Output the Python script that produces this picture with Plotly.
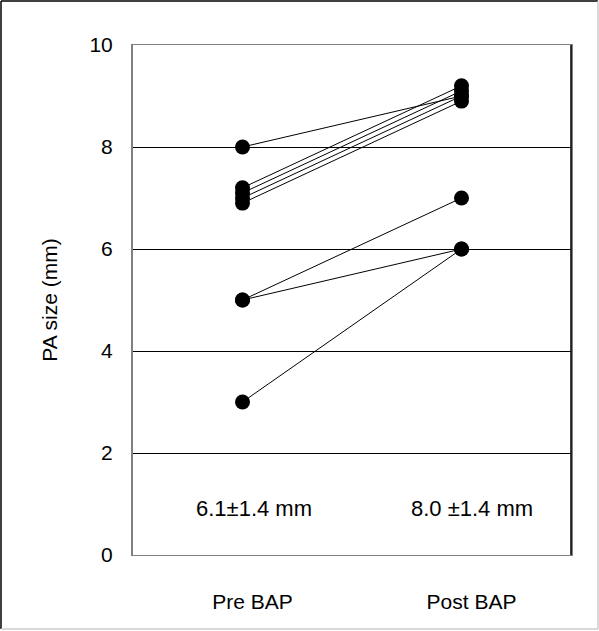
import plotly.graph_objects as go

categories = ["Pre BAP", "Post BAP"]
pre_values = [8.0, 7.2, 7.1, 7.0, 6.9, 5.0, 5.0, 3.0]
post_values = [9.0, 9.2, 9.1, 9.0, 8.9, 7.0, 6.0, 6.0]
summary_labels = ["6.1\u00b11.4 mm", "8.0 \u00b11.4 mm"]
y_ticks = [0, 2, 4, 6, 8, 10]

W, H = 599, 631
L, R, T, B = 133, 28, 45, 76
pw, ph = W - L - R, H - T - B

fig = go.Figure()
xs, ys = [], []
for a, b in zip(pre_values, post_values):
    xs += [1, 2, None]
    ys += [a, b, None]
fig.add_trace(go.Scatter(
    x=xs, y=ys, mode="lines+markers",
    line=dict(color="black", width=1),
    marker=dict(color="black", size=15),
    showlegend=False, hoverinfo="skip", cliponaxis=False,
))

FONT = "Liberation Sans, Arial, sans-serif"
FS = 21
for i, txt in enumerate(summary_labels):
    fig.add_annotation(x=i + 1, y=0.92, xref="x", yref="y", text=txt,
                       showarrow=False, xshift=11 if i == 0 else 10,
                       font=dict(family=FONT, size=22, color="black"))

fig.update_layout(
    width=W, height=H,
    margin=dict(l=L, r=R, t=T, b=B),
    paper_bgcolor="white", plot_bgcolor="white",
    font=dict(family=FONT, size=FS, color="black"),
    xaxis=dict(range=[0.5, 2.5], tickvals=[1, 2], ticktext=categories,
               showgrid=False, zeroline=False, showline=True, mirror=True,
               linecolor="#808080", linewidth=1, ticks="",
               ticklabelstandoff=28, ticklabelshift=10,
               tickfont=dict(family=FONT, size=FS, color="black")),
    yaxis=dict(range=[0, 10], tickvals=y_ticks, showgrid=True,
               gridcolor="black", gridwidth=1, zeroline=False,
               showline=True, mirror=True, linecolor="#808080", linewidth=2,
               ticks="", ticklabelstandoff=14,
               tickfont=dict(family=FONT, size=FS, color="black"),
               title=dict(text="PA size (mm)", standoff=26,
                          font=dict(family=FONT, size=FS, color="black"))),
)

# right edge of the plot frame (black)
fig.add_shape(type="line", xref="paper", yref="paper", x0=1, x1=1, y0=0, y1=1,
              line=dict(color="black", width=1.5))

# outer figure border
def px2paper_x(px):
    return (px - L) / pw

def px2paper_y(py):
    return 1 - (py - T) / ph

fig.add_shape(type="line", xref="paper", yref="paper",
              x0=px2paper_x(1), x1=px2paper_x(598), y0=px2paper_y(1), y1=px2paper_y(1),
              line=dict(color="black", width=1.5))
fig.add_shape(type="line", xref="paper", yref="paper",
              x0=px2paper_x(1), x1=px2paper_x(1), y0=px2paper_y(1), y1=px2paper_y(629),
              line=dict(color="black", width=1.5))
fig.add_shape(type="line", xref="paper", yref="paper",
              x0=px2paper_x(1), x1=px2paper_x(598), y0=px2paper_y(629), y1=px2paper_y(629),
              line=dict(color="#cccccc", width=1.5))
fig.add_shape(type="line", xref="paper", yref="paper",
              x0=px2paper_x(598), x1=px2paper_x(598), y0=px2paper_y(1), y1=px2paper_y(629),
              line=dict(color="#cccccc", width=1.5))

fig.write_html("out.html", config={"displayModeBar": False},
               post_script="document.body.style.margin='0';")
